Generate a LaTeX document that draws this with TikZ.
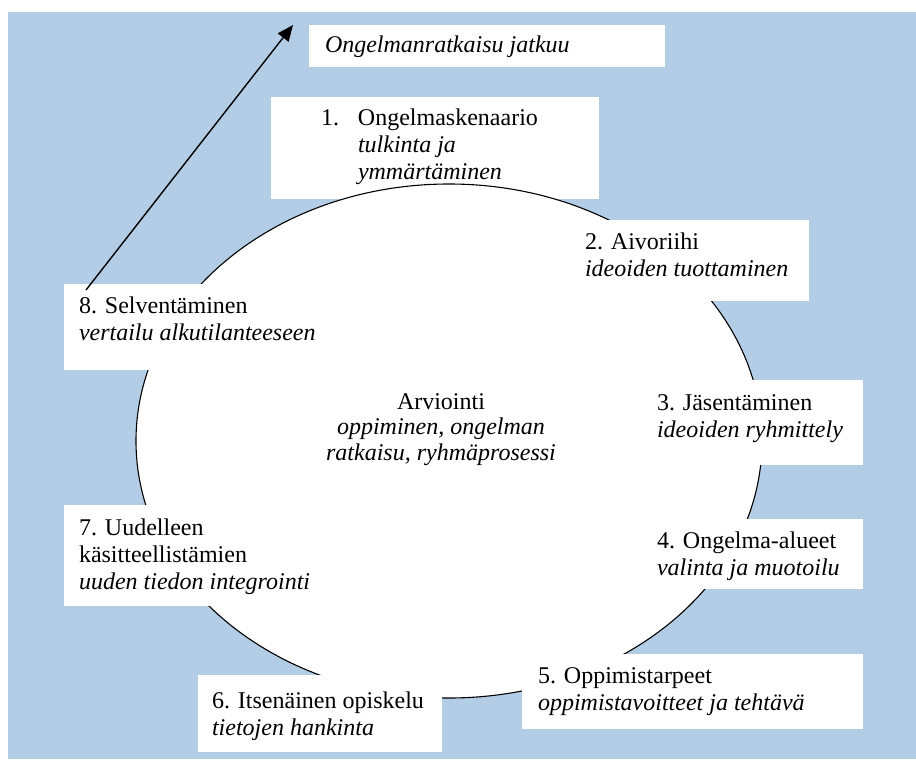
\documentclass[tikz,border=0pt]{standalone}
\usepackage{fontspec}
\setmainfont{Liberation Serif}
\usetikzlibrary{arrows.meta,shapes.geometric}
\definecolor{panelblue}{RGB}{179,205,230}
\begin{document}
\begin{tikzpicture}[x=1pt,y=-1pt,
  panel/.style={fill=white,draw=none,inner sep=0pt,outer sep=0pt,anchor=north west},
  caption/.style={anchor=base west,inner sep=0pt,outer sep=0pt,
    font=\fontsize{24}{27}\selectfont},
  loop/.style={ellipse,draw=black,line width=1.1pt,fill=white,inner sep=0pt},
  flow/.style={line width=1.4pt,-{Triangle[length=16pt,width=13.5pt]}}]
\useasboundingbox (0,0) rectangle (916,760);
\fill[white] (0,0) rectangle (916,760);
\fill[panelblue] (8,12) rectangle (916,759);

% step 1 box lies under the cycle outline
\node[panel,minimum width=328pt,minimum height=102pt] (b1) at (271,97) {};
\node[panel,minimum width=356pt,minimum height=42pt] (b0) at (309,25) {};

% the learning cycle
\node[loop,minimum width=626pt,minimum height=514pt] (cycle) at (449,441) {};

\node[panel,minimum width=232pt,minimum height=81pt] (b2) at (577,220) {};
\node[panel,minimum width=222pt,minimum height=85pt] (b3) at (641,380) {};
\node[panel,minimum width=220pt,minimum height=70pt] (b4) at (643,519) {};
\node[panel,minimum width=341pt,minimum height=75pt] (b5) at (522,654) {};
\node[panel,minimum width=244pt,minimum height=77pt] (b6) at (198,675) {};
\node[panel,minimum width=271pt,minimum height=101pt] (b7) at (64,505) {};
\node[panel,minimum width=267pt,minimum height=86pt] (b8) at (64,284) {};

% texts
\node[caption] (t0) at (325,53) {\textit{Ongelmanratkaisu jatkuu}};
\node[caption] (t1) at (321,125) {\begin{tabular}[t]{@{}l@{}}
  \makebox[37pt][l]{1.}Ongelmaskenaario\\
  \hspace*{37pt}\textit{tulkinta ja}\\
  \hspace*{37pt}\textit{ymmärtäminen}\end{tabular}};
\node[caption] (t2) at (585,249) {\begin{tabular}[t]{@{}l@{}}
  2. Aivoriihi\\ \textit{ideoiden tuottaminen}\end{tabular}};
\node[caption] (t3) at (657,410) {\begin{tabular}[t]{@{}l@{}}
  3. Jäsentäminen\\ \textit{ideoiden ryhmittely}\end{tabular}};
\node[caption] (t4) at (657,548) {\begin{tabular}[t]{@{}l@{}}
  4. Ongelma-alueet\\ \textit{valinta ja muotoilu}\end{tabular}};
\node[caption] (t5) at (538,683) {\begin{tabular}[t]{@{}l@{}}
  5. Oppimistarpeet\\ \textit{oppimistavoitteet ja tehtävä}\end{tabular}};
\node[caption] (t6) at (212,708) {\begin{tabular}[t]{@{}l@{}}
  6. Itsenäinen opiskelu\\ \textit{tietojen hankinta}\end{tabular}};
\node[caption] (t7) at (79,535) {\begin{tabular}[t]{@{}l@{}}
  7. Uudelleen\\ käsitteellistämien\\ \textit{uuden tiedon integrointi}\end{tabular}};
\node[caption] (t8) at (79,313) {\begin{tabular}[t]{@{}l@{}}
  8. Selventäminen\\ \textit{vertailu alkutilanteeseen}\end{tabular}};
\node[caption,anchor=base] (tc) at (441,409) {\fontsize{24}{25.5}\selectfont
  \begin{tabular}[t]{@{}c@{}}
  Arviointi\\ \textit{oppiminen, ongelman}\\ \textit{ratkaisu, ryhmäprosessi}\end{tabular}};

% continuation arrow
\coordinate (arrowfrom) at (86,290);
\coordinate (arrowto) at (293,25);
\draw[flow] (arrowfrom) -- (arrowto);
\end{tikzpicture}
\end{document}
